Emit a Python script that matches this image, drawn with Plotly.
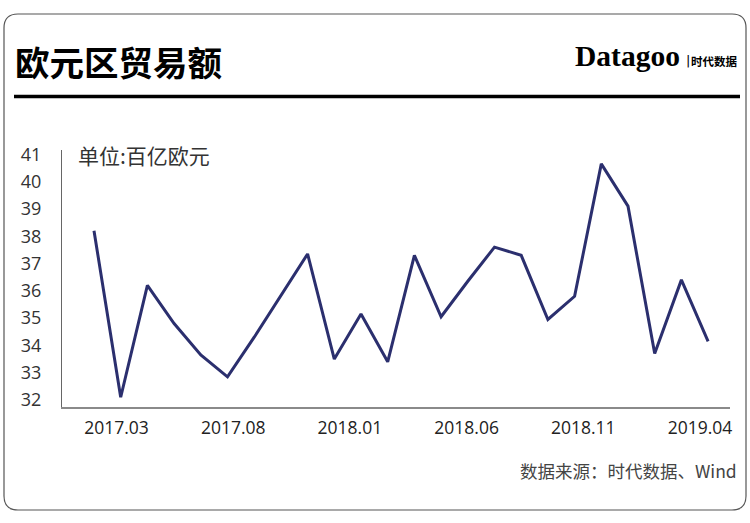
import plotly.graph_objects as go

# ---- data ----
values = [38.2, 32.1, 36.2, 34.8, 33.65, 32.85, 34.3, 35.85, 37.35, 33.5,
          35.15, 33.4, 37.3, 35.05, 36.35, 37.6, 37.3, 34.95, 35.8, 40.65,
          39.1, 33.7, 36.4, 34.15]
x_index = list(range(len(values)))
tick_labels = ["2017.03", "2017.08", "2018.01", "2018.06", "2018.11", "2019.04"]
y_ticks = list(range(32, 42))

W, H = 750, 523
L, R, T, B = 62, 730, 150, 407  # plot area in px
X0_PX, STEP_PX = 94.0, 26.7      # horizontal scale of the category index
Y32_PX, UNIT_PX = 400, 27.3      # vertical scale


def px(x):
    return (x - L) / (R - L)


def py(y):
    return (B - y) / (B - T)


# tick label centres (px) converted to index units
tick_px = [116.5, 233.2, 349.9, 466.6, 583.3, 700.0]
tick_positions = [(p - X0_PX) / STEP_PX for p in tick_px]

fig = go.Figure()
fig.add_trace(go.Scatter(
    x=x_index, y=values, mode="lines",
    line=dict(color="#2b2f6e", width=3), hoverinfo="skip", showlegend=False,
))

# rounded frame
x0, x1, y0, y1, r = 4, 746, 14, 510, 14
path = (f"M {px(x0 + r)},{py(y0)} L {px(x1 - r)},{py(y0)} "
        f"Q {px(x1)},{py(y0)} {px(x1)},{py(y0 + r)} "
        f"L {px(x1)},{py(y1 - r)} Q {px(x1)},{py(y1)} {px(x1 - r)},{py(y1)} "
        f"L {px(x0 + r)},{py(y1)} Q {px(x0)},{py(y1)} {px(x0)},{py(y1 - r)} "
        f"L {px(x0)},{py(y0 + r)} Q {px(x0)},{py(y0)} {px(x0 + r)},{py(y0)} Z")
shapes = [
    dict(type="path", xref="paper", yref="paper", path=path,
         line=dict(color="#555555", width=1.2), layer="below"),
    dict(type="line", xref="paper", yref="paper", x0=px(14), x1=px(740),
         y0=py(96.5), y1=py(96.5), line=dict(color="#000000", width=3.5)),
]

annotations = [
    dict(text="<b>欧元区贸易额</b>", x=px(13), y=py(61), xref="paper", yref="paper",
         xanchor="left", yanchor="middle", showarrow=False,
         font=dict(size=34.5, color="#000000", family="Noto Sans CJK SC")),
    dict(text="<b>Datagoo</b>", x=px(682), y=py(56), xref="paper", yref="paper",
         xanchor="right", yanchor="middle", showarrow=False,
         font=dict(size=29.5, color="#000000", family="Liberation Serif")),
    dict(text="|", x=px(688), y=py(61), xref="paper", yref="paper",
         xanchor="center", yanchor="middle", showarrow=False,
         font=dict(size=13, color="#000000", family="DejaVu Sans")),
    dict(text="<b>时代数据</b>", x=px(740), y=py(61), xref="paper", yref="paper",
         xanchor="right", yanchor="middle", showarrow=False,
         font=dict(size=11.5, color="#000000", family="Noto Sans CJK SC")),
    dict(text="单位:百亿欧元", x=px(76), y=py(155), xref="paper", yref="paper",
         xanchor="left", yanchor="middle", showarrow=False,
         font=dict(size=21, color="#333333", family="Noto Sans CJK SC")),
    dict(text="数据来源：时代数据、Wind", x=px(739), y=py(470), xref="paper", yref="paper",
         xanchor="right", yanchor="middle", showarrow=False,
         font=dict(size=17.5, color="#444444", family="Noto Sans CJK SC")),
]

x_lo = -(X0_PX - L) / STEP_PX
x_hi = (R - X0_PX) / STEP_PX
y_lo = 32 - (B - Y32_PX) / UNIT_PX
y_hi = 32 + (Y32_PX - T) / UNIT_PX

fig.update_layout(
    width=W, height=H,
    margin=dict(l=L, r=W - R, t=T, b=H - B, autoexpand=False),
    paper_bgcolor="#ffffff", plot_bgcolor="#ffffff",
    font=dict(family="Open Sans", color="#222222"),
    shapes=shapes, annotations=annotations,
    xaxis=dict(range=[x_lo, x_hi], tickvals=tick_positions, ticktext=tick_labels,
               showgrid=False, zeroline=False, showline=True, linecolor="#8a8a8a",
               linewidth=1.5, ticks="", ticklabelstandoff=4,
               tickfont=dict(size=17.5, color="#222222", family="Open Sans")),
    yaxis=dict(range=[y_lo, y_hi], tickvals=y_ticks, showgrid=False, zeroline=False,
               showline=True, linecolor="#666666", linewidth=1, ticks="",
               ticklabelstandoff=16,
               tickfont=dict(size=18, color="#333333", family="Open Sans")),
)

fig.write_html("out.html", config={"displayModeBar": False},
               post_script="document.body.style.margin='0';"
                           "document.body.style.overflow='hidden';")
